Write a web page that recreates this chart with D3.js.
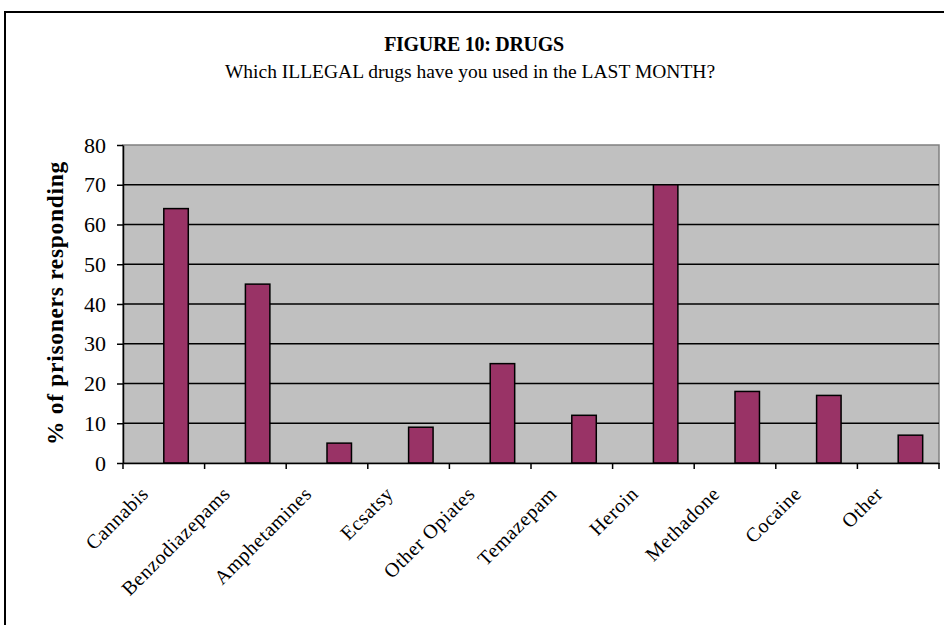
<!DOCTYPE html>
<html><head><meta charset="utf-8">
<script src="https://cdn.jsdelivr.net/npm/d3@7"></script>
<style>body{margin:0;background:#fff;} svg{display:block;}</style>
</head><body>
<svg id="c" width="944" height="625"></svg>
<script>
const categories = ["Cannabis","Benzodiazepams","Amphetamines","Ecsatsy","Other Opiates","Temazepam","Heroin","Methadone","Cocaine","Other"];
const values = [64,45,5,9,25,12,70,18,17,7];
const yTicks = [0,10,20,30,40,50,60,70,80];
const title = "FIGURE 10: DRUGS";
const subtitle = "Which ILLEGAL drugs have you used in the LAST MONTH?";
const yTitle = "% of prisoners responding";

const svg = d3.select("#c");
const font = "'Liberation Serif','Times New Roman',serif";
const L=123, R=939, T=145, B=463;

// outer frame
svg.append("rect").attr("x",5).attr("y",12).attr("width",950).attr("height",700)
  .attr("fill","none").attr("stroke","#000").attr("stroke-width",2);

svg.append("text").attr("x",474).attr("y",51).attr("text-anchor","middle")
  .style("font-family",font).style("font-weight","bold").style("font-size","20px")
  .attr("letter-spacing",-0.3).text(title);
svg.append("text").attr("x",470).attr("y",78).attr("text-anchor","middle")
  .style("font-family",font).style("font-size","19.5px").text(subtitle);

const x = d3.scaleBand().domain(categories).range([L,R]);
const y = d3.scaleLinear().domain([0,80]).range([B,T]);

svg.append("rect").attr("x",L).attr("y",T).attr("width",R-L).attr("height",B-T)
  .attr("fill","#c0c0c0").attr("stroke","#808080").attr("stroke-width",1.5);

svg.append("g").selectAll("line").data(yTicks.filter(d=>d>0&&d<80)).join("line")
  .attr("x1",L).attr("x2",R).attr("y1",d=>y(d)).attr("y2",d=>y(d))
  .attr("stroke","#000").attr("stroke-width",1.3);

const bw = x.bandwidth()*0.3;
svg.append("g").selectAll("rect").data(values).join("rect")
  .attr("x",(d,i)=>x(categories[i])+x.bandwidth()/2)
  .attr("y",d=>y(d)).attr("width",bw).attr("height",d=>B-y(d))
  .attr("fill","#993366").attr("stroke","#000").attr("stroke-width",1.5);

// y axis
const ya = svg.append("g").attr("transform",`translate(${L},0)`)
  .call(d3.axisLeft(y).tickValues(yTicks).tickSize(6).tickPadding(11).tickSizeOuter(0));
ya.attr("font-family",null).attr("font-size",null);
ya.select(".domain").attr("stroke","#000").attr("stroke-width",1.5);
ya.selectAll(".tick line").attr("stroke","#000").attr("stroke-width",1.5);
ya.selectAll("text").style("font-family",font).style("font-size","22px").attr("fill","#000");

// x axis
const xa = svg.append("g").attr("transform",`translate(0,${B})`)
  .call(d3.axisBottom(x).tickSize(0).tickFormat(""));
xa.select(".domain").attr("stroke","#000").attr("stroke-width",1.5);
const bounds = categories.map(c=>x(c)).concat([R]);
xa.selectAll(".bt").data(bounds).join("line").attr("class","bt")
  .attr("x1",d=>d).attr("x2",d=>d).attr("y1",0).attr("y2",6)
  .attr("stroke","#000").attr("stroke-width",1.5);

svg.append("g").selectAll("text").data(categories).join("text")
  .attr("transform",d=>`translate(${x(d)+x.bandwidth()/2-14},${B+32}) rotate(-45)`)
  .attr("text-anchor","end").style("font-family",font).style("font-size","20px")
  .attr("letter-spacing",0.6)
  .text(d=>d);

svg.append("text").attr("transform",`translate(63,303) rotate(-90)`)
  .attr("text-anchor","middle").style("font-family",font).style("font-weight","bold")
  .style("font-size","23.5px").attr("letter-spacing",0.7).text(yTitle);
</script>
</body></html>
